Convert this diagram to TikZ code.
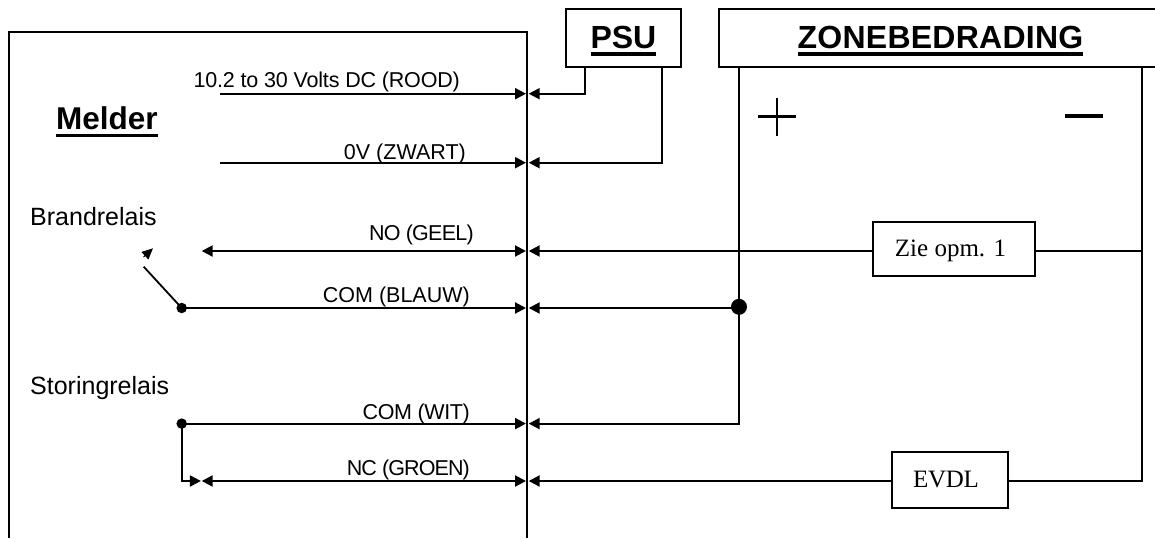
\documentclass[tikz,border=0pt]{standalone}
\usepackage{fontspec}
\setmainfont{Liberation Sans}
\newfontfamily\serifface{Liberation Serif}
\usetikzlibrary{arrows.meta,calc}
\newsavebox{\ulsave}
\newcommand{\ultext}[1]{\sbox{\ulsave}{#1}\rlap{\usebox{\ulsave}}\raisebox{-7.5pt}{\rule{\wd\ulsave}{3.6pt}}}
\newcommand{\tightfont}[1]{\addfontfeature{LetterSpace=#1}}
\tikzset{
  x=1pt,y=-1pt,
  line join=miter,
  frame/.style={draw=black,line width=2pt,fill=white},
  wire/.style={draw=black,line width=2.1pt},
  wireto/.style={wire,-{Triangle[length=11pt,width=11pt]}},
  wireboth/.style={wire,{Triangle[length=11pt,width=11pt]}-{Triangle[length=11pt,width=11pt]}},
  lab/.style={inner sep=0pt,font=\fontsize{21.5}{24}\selectfont},
  wlab/.style={lab,anchor=base east},
  rlab/.style={lab,anchor=base west},
  boldtitle/.style={font=\fontsize{32}{34}\bfseries\selectfont},
  serifbox/.style={frame,inner sep=0pt,font=\fontsize{25}{27}\serifface\selectfont,text height=16pt,text depth=2pt},
  junction/.style={circle,fill=black,inner sep=0pt},
}
\begin{document}
\begin{tikzpicture}
\useasboundingbox (0,0) rectangle (1155,538);
% anchors on the bus
\coordinate (busL) at (526,0);
\coordinate (busR) at (528.7,0);
% melder frame
\draw[frame,fill=none] (9,538) -- (9,32) -- (527,32) -- (527,538);
% boxes
\node[frame,boldtitle,inner sep=0pt,minimum width=115.5pt,minimum height=57.5pt,text height=24pt,text depth=3.6pt] (psu) at (623.4,37.8) {\ultext{PSU}};
\coordinate (zoneNW) at (719,9);
\coordinate (zoneSW) at (719,66.6);
\coordinate (zoneNE) at (1155,9);
\coordinate (zoneSE) at (1155,66.6);
\draw[frame,fill=none] (zoneNE) -- (zoneNW) -- (zoneSW) -- (zoneSE);
\node[boldtitle,inner sep=0pt,anchor=base] (zonetitle) at (940.5,48) {\tightfont{0.8}\ultext{ZONEBEDRADING}};
\node[serifbox,minimum width=162pt,minimum height=54pt] (zie) at (954,249) {\hspace*{-7pt}Zie opm. 1};
\node[serifbox,minimum width=116pt,minimum height=56pt] (evdl) at (950,480) {\hspace*{-8pt}\tightfont{-1.2}EVDL};
% texts
\node[lab,anchor=base west,font=\fontsize{31.5}{33}\bfseries\selectfont] (melder) at (56,129.6) {\ultext{Melder}};
\node[rlab,font=\fontsize{25}{27}\selectfont] (brand) at (30,225.7) {Brandrelais};
\node[rlab,font=\fontsize{25}{27}\selectfont] (storing) at (30,394) {Storingrelais};
\node[wlab] (l1) at (460,87.6) {\tightfont{-0.9}10.2 to 30 Volts DC (ROOD)};
\node[wlab] (l2) at (466,159) {0V (ZWART)};
\node[wlab] (l3) at (474,240) {\tightfont{-3.4}NO (GEEL)};
\node[wlab] (l4) at (470,302.7) {COM (BLAUW)};
\node[wlab] (l5) at (470,419) {\tightfont{-1.8}COM (WIT)};
\node[wlab] (l6) at (470,475) {\tightfont{-4.2}NC (GROEN)};
% plus and minus
\coordinate (plusL) at (758,116); \coordinate (plusR) at (796,116);
\coordinate (plusT) at (777,98); \coordinate (plusB) at (777,136);
\coordinate (minusL) at (1065,116); \coordinate (minusR) at (1103,116);
\draw[line width=3pt] (plusL) -- (plusR);
\draw[line width=2.4pt] (plusT) -- (plusB);
\draw[line width=3.4pt] (minusL) -- (minusR);
% junctions
\node[junction,minimum size=16pt] (jz) at (739,306.8) {};
\node[junction,minimum size=10.5pt] (j1) at (181.7,308) {};
\node[junction,minimum size=10.5pt] (j2) at (181.7,423.6) {};
% left wires
\coordinate (s1) at (220,93.7);
\coordinate (s2) at (220,162.7);
\coordinate (s3) at (201.7,251);
\coordinate (s6) at (201.7,481);
\coordinate (corner) at (181.7,481);
\coordinate (sw) at (143.7,266.7);
\coordinate (swtailtip) at (143.5,257);
\coordinate (swtip) at (153,248.3);
\draw[wireto] (s1) -- (s1-|busL);
\draw[wireto] (s2) -- (s2-|busL);
\draw[wireboth] (s3) -- (s3-|busL);
\draw[wireto] (j1.center) -- (j1.center-|busL);
\draw[wireto] (j2.center) -- (j2.center-|busL);
\draw[wireboth] (s6) -- (s6-|busL);
\draw[wire,line width=1.8pt] (j1.center) -- (sw);
\draw[-{Triangle[length=11pt,width=10pt]},line width=1pt] (swtailtip) -- (swtip);
\draw[wire,-{Triangle[length=11pt,width=11pt]}] (j2.center) -- (corner) -- ($(corner)+(19.2,0)$);
% right wires
\coordinate (z1) at (739,66.6);
\coordinate (zcom) at (739,423.6);
\coordinate (r1) at (1142,66.6);
\coordinate (r2) at (1142,481);
\coordinate (r3) at (1142,251);
\coordinate (p1) at (585,66.6);
\coordinate (p2) at (662,66.6);
\draw[wireto] (p1) -- (585,93.7) -- (busR|-s1);
\draw[wireto] (p2) -- (662,162.7) -- (busR|-s2);
\draw[wireto] (z1) -- (zcom) -- (busR|-zcom);
\draw[wireto] (zie.west|-s3) -- (busR|-s3);
\draw[wireto] (jz.center|-j1.center) -- (busR|-j1.center);
\draw[wireto] (evdl.west|-s6) -- (busR|-s6);
\draw[wire] (r1) -- (r2) -- (evdl.east|-r2);
\draw[wire] (r3) -- (zie.east|-r3);
\end{tikzpicture}
\end{document}
